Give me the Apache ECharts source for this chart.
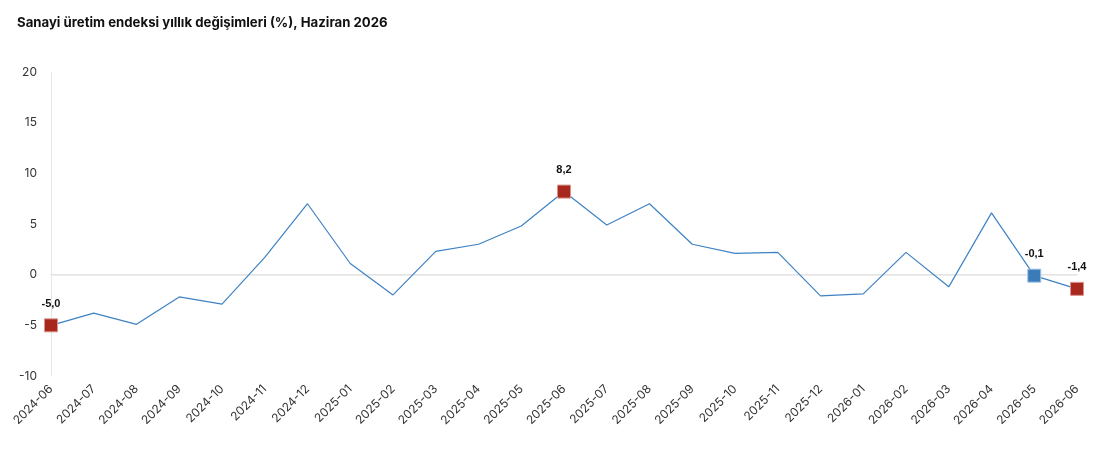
<!DOCTYPE html>
<html>
<head>
<meta charset="utf-8">
<script src="https://cdn.jsdelivr.net/npm/echarts@6/dist/echarts.min.js"></script>
<style>
html,body{margin:0;padding:0;background:#fff;}
#chart{width:1110px;height:475px;}
</style>
</head>
<body>
<div id="chart"></div>
<script>
const titleText = 'Sanayi üretim endeksi yıllık değişimleri (%), Haziran 2026';
const categories = ['2024-06','2024-07','2024-08','2024-09','2024-10','2024-11','2024-12','2025-01','2025-02','2025-03','2025-04','2025-05','2025-06','2025-07','2025-08','2025-09','2025-10','2025-11','2025-12','2026-01','2026-02','2026-03','2026-04','2026-05','2026-06'];
const values = [-5.0,-3.8,-4.9,-2.2,-2.9,1.7,7.0,1.1,-2.0,2.3,3.0,4.8,8.2,4.9,7.0,3.0,2.1,2.2,-2.1,-1.9,2.2,-1.2,6.1,-0.1,-1.4];
const redMarked = ['2024-06','2025-06','2026-06'];
const blueMarked = ['2026-05'];
const yTicks = [-10,-5,0,5,10,15,20];

const RED = '#a8281e', BLUE = '#3b7bb9', LINE = '#3f82c4';
const seriesData = values.map((v, i) => {
  const c = categories[i];
  const isRed = redMarked.includes(c), isBlue = blueMarked.includes(c);
  if (!isRed && !isBlue) return { value: v, symbol: 'none' };
  return {
    value: v,
    symbol: 'rect',
    symbolSize: 13,
    itemStyle: { color: isRed ? RED : BLUE, borderColor: isRed ? '#d9958d' : '#9fc3e6', borderWidth: 1 },
    label: {
      show: true, position: 'top', distance: 9,
      formatter: () => v.toFixed(1).replace('.', ','),
      fontFamily: 'Liberation Sans', fontWeight: 'bold', fontSize: 11, color: '#111'
    }
  };
});

const chart = echarts.init(document.getElementById('chart'));
chart.setOption({
  animation: false,
  title: {
    text: titleText, left: 12, top: 12,
    textStyle: { fontFamily: 'Inter', fontWeight: 'bold', fontSize: 13.2, color: '#111' }
  },
  grid: { left: 51, right: 33, top: 72, bottom: 99, containLabel: false },
  xAxis: {
    type: 'category', data: categories, boundaryGap: false,
    axisLine: { show: true, lineStyle: { color: '#eeeeee', width: 2 } },
    axisTick: { show: false },
    axisLabel: { rotate: 45, interval: 0, fontFamily: 'Inter', fontSize: 12, color: '#333', margin: 11 },
    splitLine: { show: false }
  },
  yAxis: {
    type: 'value', min: yTicks[0], max: yTicks[yTicks.length - 1], interval: 5,
    axisLine: { show: true, lineStyle: { color: '#e6e6e6', width: 1 } },
    axisTick: { show: false },
    axisLabel: { fontFamily: 'Inter', fontSize: 12, color: '#333', margin: 14 },
    splitLine: { show: false }
  },
  series: [{
    type: 'line', data: [], z: 1, silent: true,
    markLine: {
      silent: true, symbol: 'none', label: { show: false },
      lineStyle: { color: '#e3e3e3', width: 1, type: 'solid' },
      data: [{ yAxis: 0 }]
    }
  }, {
    type: 'line', data: seriesData,
    lineStyle: { color: LINE, width: 1.2 },
    itemStyle: { color: LINE },
    z: 5
  }]
});
</script>
</body>
</html>
